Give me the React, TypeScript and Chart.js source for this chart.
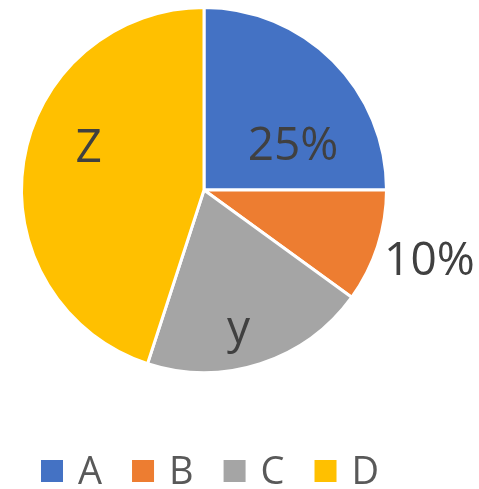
import React, { useEffect, useRef } from "react";
import { Chart, registerables } from "chart.js";

Chart.register(...registerables);

const categories = ["A", "B", "C", "D"];
const values = [25, 10, 20, 45];
const sliceLabels = ["25%", "10%", "y", "Z"];
const colors = ["#4472C4", "#ED7D31", "#A5A5A5", "#FFC000"];

// label placement: [angle (deg, canvas coords), radius fraction]
const labelPlacement: [number, number][] = [
  [-18.6, 0.515],
  [20.65, 1.32],
  [77.3, 0.86],
  [193.6, 0.65],
];

const FONT = '"Open Sans", "Noto Sans", sans-serif';

const labelPlugin = {
  id: "customLabels",
  afterDraw(chart: any) {
    const ctx = chart.ctx;
    const meta = chart.getDatasetMeta(0);
    const arc0 = meta.data[0] as any;
    const cx = arc0.x;
    const cy = arc0.y;
    const r = arc0.outerRadius;
    ctx.save();
    ctx.fillStyle = "#404040";
    ctx.font = `46px ${FONT}`;
    ctx.textAlign = "center";
    ctx.textBaseline = "alphabetic";
    sliceLabels.forEach((t, i) => {
      const [a, f] = labelPlacement[i];
      const rad = (a * Math.PI) / 180;
      ctx.fillText(t, cx + Math.cos(rad) * r * f, cy + Math.sin(rad) * r * f);
    });
    // legend
    ctx.font = `38px ${FONT}`;
    ctx.textAlign = "left";
    ctx.fillStyle = "#595959";
    let x = 41;
    const sqTop = 460;
    const baseline = 484;
    categories.forEach((c, i) => {
      ctx.fillStyle = colors[i];
      ctx.fillRect(x, sqTop, 22, 22);
      ctx.fillStyle = "#595959";
      const tx = x + 37;
      ctx.fillText(c, tx, baseline);
      x = tx + ctx.measureText(c).width + 30;
    });
    ctx.restore();
  },
};

export default function App() {
  const ref = useRef<HTMLCanvasElement | null>(null);
  useEffect(() => {
    if (!ref.current) return;
    const chart = new Chart(ref.current, {
      type: "pie",
      data: {
        labels: categories,
        datasets: [
          {
            data: values,
            backgroundColor: colors,
            borderColor: "#FFFFFF",
            borderWidth: 3,
          },
        ],
      },
      options: {
        animation: false,
        responsive: false,
        layout: { padding: { left: 20, right: 91, top: 6, bottom: 115 } },
        plugins: {
          legend: { display: false },
          tooltip: { enabled: false },
        },
      },
      plugins: [labelPlugin],
    });
    return () => chart.destroy();
  }, []);
  return (
    <div style={{ position: "fixed", left: 0, top: 0, width: 479, height: 489, background: "#fff" }}>
      <canvas ref={ref} width={479} height={489} style={{ width: 479, height: 489 }} />
    </div>
  );
}
